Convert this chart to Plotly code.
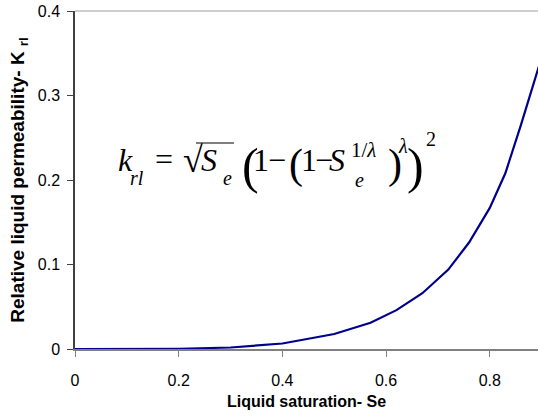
import plotly.graph_objects as go

# Data
saturation = [0.0, 0.1, 0.2, 0.3, 0.4, 0.5, 0.57, 0.62, 0.67, 0.72, 0.76, 0.8, 0.83, 0.86, 0.89, 0.9]
permeability = [0.0, 0.0, 0.0003, 0.0018, 0.0065, 0.0178, 0.031, 0.046, 0.066, 0.094, 0.126, 0.167, 0.208, 0.265, 0.326, 0.345]

x_ticks = [0, 0.2, 0.4, 0.6, 0.8]
x_tick_labels = ["0", "0.2", "0.4", "0.6", "0.8"]
y_ticks = [0, 0.1, 0.2, 0.3, 0.4]
y_tick_labels = ["0", "0.1", "0.2", "0.3", "0.4"]

W, H = 538, 417
L, R, T, B = 75, 538, 11, 349

fig = go.Figure()
fig.add_trace(go.Scatter(x=saturation, y=permeability, mode="lines",
                         line=dict(color="#00008B", width=2.2), showlegend=False,
                         cliponaxis=True))

def px(x):
    return (x - L) / (R - L)

def py(y):
    return (B - y) / (B - T)

SERIF = "Liberation Serif, Times New Roman, serif"
pieces = [
    ("<i>k</i>", 116, 160, 32),
    ("<i>rl</i>", 128, 178, 20),
    ("=", 153, 159, 32),
    ("√", 181, 160, 36),
    ("<i>S</i>", 199, 160, 32),
    ("<i>e</i>", 221, 178, 20),
    ("(", 240, 166, 50),
    ("1", 251, 160, 32),
    ("−", 266, 160, 32),
    ("(", 287, 164, 42),
    ("1", 299, 160, 32),
    ("−", 313, 160, 32),
    ("<i>S</i>", 327, 160, 32),
    ("1/<i>λ</i>", 349, 150, 21),
    ("<i>e</i>", 353, 180, 20),
    (")", 386, 164, 42),
    ("<i>λ</i>", 396, 146, 20),
    (")", 405, 166, 50),
    ("2", 424, 139, 20),
]
annotations = []
for txt, x0, y0, size in pieces:
    annotations.append(dict(text=txt, x=px(x0), y=py(y0), xref="paper", yref="paper",
                            xanchor="left", yanchor="middle", showarrow=False,
                            font=dict(family=SERIF, size=size, color="black")))

shapes = [
    dict(type="line", xref="paper", yref="paper", x0=0, x1=1, y0=1, y1=1,
         line=dict(color="#A0A0A0", width=1)),
    dict(type="line", xref="paper", yref="paper", x0=px(196), x1=px(234), y0=py(143), y1=py(143),
         line=dict(color="black", width=1.2)),
]

fig.update_layout(
    width=W, height=H,
    margin=dict(l=L, r=W - R, t=T, b=H - B, autoexpand=False),
    paper_bgcolor="white", plot_bgcolor="white",
    font=dict(family="Liberation Sans, Arial, sans-serif", color="black"),
    annotations=annotations,
    shapes=shapes,
    xaxis=dict(range=[0, 0.893], tickvals=x_ticks, ticktext=x_tick_labels, automargin=False,
               showgrid=False, zeroline=False, showline=True, linecolor="#808080", linewidth=1.5,
               ticks="outside", ticklen=6, tickcolor="#808080", tickwidth=1,
               tickfont=dict(size=16), ticklabelstandoff=10,
               title=dict(text="<b>Liquid saturation- Se</b>", font=dict(size=16), standoff=8)),
    yaxis=dict(range=[0, 0.4], tickvals=y_ticks, ticktext=y_tick_labels, automargin=False,
               showgrid=False, zeroline=False, showline=True, linecolor="#404040", linewidth=1.5,
               ticks="outside", ticklen=6, tickcolor="#404040", tickwidth=1,
               tickfont=dict(size=16), ticklabelstandoff=4,
               title=dict(text="<b>Relative liquid permeability- K <sub>rl</sub></b>",
                          font=dict(size=19), standoff=8)),
)

fig.write_html("out.html", config={"displayModeBar": False},
               post_script="document.body.style.margin='0';document.body.style.overflow='hidden';")
